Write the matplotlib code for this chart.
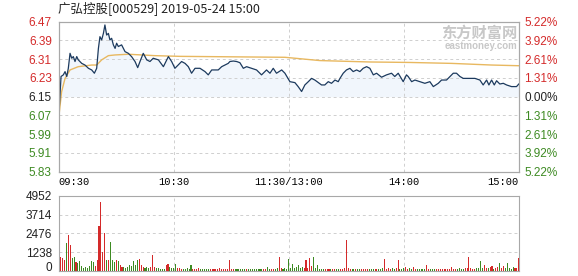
import numpy as np
import matplotlib
matplotlib.use("Agg")
import matplotlib.pyplot as plt

plt.rcParams['font.family'] = ['Liberation Sans', 'Noto Sans CJK SC', 'DejaVu Sans']

TITLE = "广弘控股[000529] 2019-05-24 15:00"
PREV_CLOSE = 6.15

# price ticks (left) and percent labels (right)
price_ticks = [6.47, 6.39, 6.31, 6.23, 6.15, 6.07, 5.99, 5.91, 5.83]
pct_labels = ["5.22%", "3.92%", "2.61%", "1.31%", "0.00%", "1.31%", "2.61%", "3.92%", "5.22%"]
vol_ticks = [0, 1238, 2476, 3714, 4952]
time_ticks = [0, 60, 120, 180, 240]
time_labels = ["09:30", "10:30", "11:30/13:00", "14:00", "15:00"]

# price line (minute since open, price)
pt_min = [0, 1.2, 2.4, 3.3, 4.2, 5.0, 5.9, 6.8, 7.6, 8.5, 9.4, 10.2, 12, 13.7, 15.5, 17.2,
          18.6, 19.8, 20.7, 21.5, 22.4, 23.3, 24.1, 25.0, 25.9, 26.7, 27.6, 28.5, 29.4, 30.2,
          31.1, 32.8, 34.6, 36.3, 38.0, 39.8, 41.2, 42.4, 44.1, 45.9, 47.6, 49.3, 52, 54.6,
          57.2, 58.9, 60.6, 64.1, 65.9, 67.6, 69.3, 71.1, 73.7, 76.3, 78, 79.8, 81.5, 83.2,
          85, 86.7, 88.4, 89.3, 91.1, 92.8, 94.5, 96.3, 98, 100.6, 103.2, 105.8, 108.4, 110.2,
          111.9, 113.6, 116.3, 118, 120.6, 123.2, 124.9, 126.7, 128.4, 130.2, 131.9, 133.6,
          135.4, 137.1, 138.8, 140.6, 142.3, 144.1, 145.8, 146.7, 148.4, 150.1, 151.9, 153.6,
          155.4, 157.1, 158.8, 160.6, 162.3, 163.2, 164.1, 165.8, 168.4, 171, 173.6, 175.3,
          177.1, 179.7, 181.4, 182.3, 184.1, 185.8, 188.4, 191, 193.6, 195.4, 198, 199.7,
          202.3, 204.1, 205.8, 207.5, 209.3, 211, 213.6, 217.1, 219.7, 221.4, 223.2, 224.4,
          225.8, 227.2, 228.4, 230.1, 231.9, 233.6, 236.2, 238.8, 240]
pt_price = [6.058, 6.236, 6.243, 6.257, 6.236, 6.271, 6.335, 6.314, 6.321, 6.300, 6.321, 6.307,
            6.292, 6.285, 6.271, 6.264, 6.250, 6.271, 6.356, 6.406, 6.392, 6.420, 6.456, 6.413,
            6.420, 6.392, 6.399, 6.371, 6.356, 6.378, 6.364, 6.371, 6.342, 6.335, 6.321, 6.300,
            6.274, 6.300, 6.335, 6.307, 6.300, 6.314, 6.307, 6.278, 6.321, 6.300, 6.271, 6.300,
            6.292, 6.278, 6.250, 6.271, 6.271, 6.257, 6.243, 6.264, 6.264, 6.264, 6.278, 6.285,
            6.292, 6.300, 6.302, 6.300, 6.295, 6.271, 6.278, 6.271, 6.264, 6.243, 6.264, 6.250,
            6.271, 6.250, 6.264, 6.250, 6.214, 6.210, 6.193, 6.172, 6.200, 6.214, 6.228, 6.221,
            6.210, 6.200, 6.200, 6.214, 6.207, 6.221, 6.214, 6.228, 6.250, 6.264, 6.271, 6.257,
            6.264, 6.257, 6.271, 6.278, 6.271, 6.257, 6.243, 6.250, 6.233, 6.243, 6.250, 6.236,
            6.250, 6.214, 6.243, 6.236, 6.214, 6.221, 6.214, 6.207, 6.214, 6.193, 6.207, 6.221,
            6.221, 6.236, 6.250, 6.250, 6.236, 6.228, 6.228, 6.228, 6.221, 6.200, 6.221, 6.200,
            6.221, 6.200, 6.218, 6.204, 6.207, 6.200, 6.193, 6.193, 6.204]

# average price line
avg_min = [0, 1.5, 3.3, 5.9, 10.2, 17.2, 19.8, 22.4, 25.9, 29.4, 36.3, 50.2, 63.2, 118,
           136.2, 162.3, 183, 205, 225.8, 240]
avg_price = [6.06, 6.171, 6.228, 6.264, 6.278, 6.285, 6.285, 6.307, 6.325, 6.328, 6.331, 6.325,
             6.322, 6.318, 6.304, 6.298, 6.296, 6.292, 6.285, 6.282]

# volume per minute
volume = [
    600, 930, 820, 700, 1810, 2365, 1700, 820, 930, 600,
    490, 660, 310, 150, 265, 150, 310, 660, 600, 310,
    710, 2960, 4575, 1260, 2475, 710, 710, 1920, 710, 600,
    710, 660, 380, 265, 220, 150, 265, 380, 310, 660,
    380, 710, 750, 380, 265, 150, 265, 150, 220, 1040,
    265, 150, 150, 130, 130, 100, 380, 440, 220, 150,
    200, 440, 150, 150, 110, 90, 130, 160, 100, 380,
    120, 90, 110, 150, 100, 80, 120, 140, 90, 110,
    100, 130, 90, 120, 150, 110, 90, 130, 100, 710,
    120, 100, 90, 110, 80, 120, 100, 90, 130, 110,
    90, 100, 120, 80, 110, 90, 130, 100, 120, 220,
    100, 90, 130, 110, 150, 880, 160, 120, 200, 110,
    750, 200, 450, 150, 220, 400, 180, 250, 200, 710,
    150, 820, 300, 930, 200, 380, 120, 100, 90, 110,
    100, 80, 120, 90, 110, 100, 130, 90, 120, 150,
    2030, 160, 100, 90, 120, 110, 80, 100, 90, 130,
    110, 90, 100, 120, 80, 110, 100, 90, 130, 150,
    750, 120, 200, 100, 150, 120, 180, 710, 120, 100,
    160, 220, 110, 150, 100, 220, 130, 90, 110, 100,
    120, 100, 380, 110, 90, 100, 120, 100, 90, 110,
    130, 100, 90, 120, 110, 220, 100, 90, 120, 150,
    130, 100, 160, 200, 880, 150, 120, 100, 180, 200,
    640, 150, 380, 200, 160, 250, 300, 120, 180, 250,
    530, 150, 300, 160, 530, 180, 120, 220, 150, 200,
    820,
]

RED = '#d42a2a'
GREEN = '#3d8a22'
DARK = '#222222'
GRID = '#cfcfcf'
SPINE = '#a8a8a8'

fig = plt.figure(figsize=(5.78, 2.76), dpi=100)
ax = fig.add_axes([0.1016, 0.378, 0.796, 0.5435])
axv = fig.add_axes([0.1016, 0.0192, 0.796, 0.2707])

# main price panel
ax.fill_between(pt_min, pt_price, PREV_CLOSE, color='#f1f6fc', lw=0, zorder=1)
ax.plot(avg_min, avg_price, color='#e8b860', lw=1.0, zorder=3)
ax.plot(pt_min, pt_price, color='#1c3a5e', lw=0.9, zorder=4)
ax.set_xlim(0, 240)
ax.set_ylim(5.83, 6.47)
ax.set_yticks(price_ticks)
ax.set_yticklabels([f"{p:.2f}" for p in price_ticks], fontsize=8.5)
for lab, p in zip(ax.get_yticklabels(), price_ticks):
    lab.set_color(RED if p > PREV_CLOSE else (DARK if p == PREV_CLOSE else GREEN))
ax.set_xticks(time_ticks)
ax.set_xticklabels(time_labels, fontsize=7.5, family='Liberation Mono')
xl = ax.get_xticklabels()
xl[0].set_ha('left')
xl[-1].set_ha('right')
ax.tick_params(length=0, pad=4)
ax.tick_params(axis='y', pad=5)
ax.grid(True, color=GRID, ls=(0, (3, 3)), lw=0.7)

axr = ax.twinx()
axr.set_ylim(5.83, 6.47)
axr.set_yticks(price_ticks)
axr.set_yticklabels(pct_labels, fontsize=8.5)
for lab, p in zip(axr.get_yticklabels(), price_ticks):
    lab.set_color(RED if p > PREV_CLOSE else (DARK if p == PREV_CLOSE else GREEN))
axr.tick_params(length=0, pad=4)

for a in (ax, axr, axv):
    for s in a.spines.values():
        s.set_color(SPINE)
        s.set_linewidth(0.8)

# volume panel
vx = np.arange(len(volume))
pr = np.interp(vx, pt_min, pt_price)
colors = [RED if i == 0 or pr[i] >= pr[i - 1] else GREEN for i in vx]
axv.bar(vx, volume, width=0.55, color=colors, lw=0, zorder=3)
axv.set_xlim(0, 240)
axv.set_ylim(0, 4952)
axv.set_yticks(vol_ticks)
axv.set_yticklabels([str(v) for v in vol_ticks], fontsize=8.5, color=DARK)
axv.get_yticklabels()[0].set_va('baseline')
axv.set_xticks(time_ticks)
axv.set_xticklabels([])
axv.tick_params(length=0, pad=5)
axv.grid(True, color=GRID, ls=(0, (3, 3)), lw=0.7)

# title and watermark
fig.text(0.1, 0.972, TITLE, fontsize=9, color=DARK, va='center', ha='left',
         family=['Noto Sans CJK SC', 'DejaVu Sans'])
fig.text(0.895, 0.88, "东方财富网", fontsize=11, color='#c8c8c8', ha='right', va='center',
         family=['Noto Sans CJK SC'], fontweight='bold')
fig.text(0.895, 0.835, "eastmoney.com", fontsize=7, color='#c8c8c8', ha='right', va='center',
         fontweight='bold')

fig.savefig("out.png", dpi=100)
